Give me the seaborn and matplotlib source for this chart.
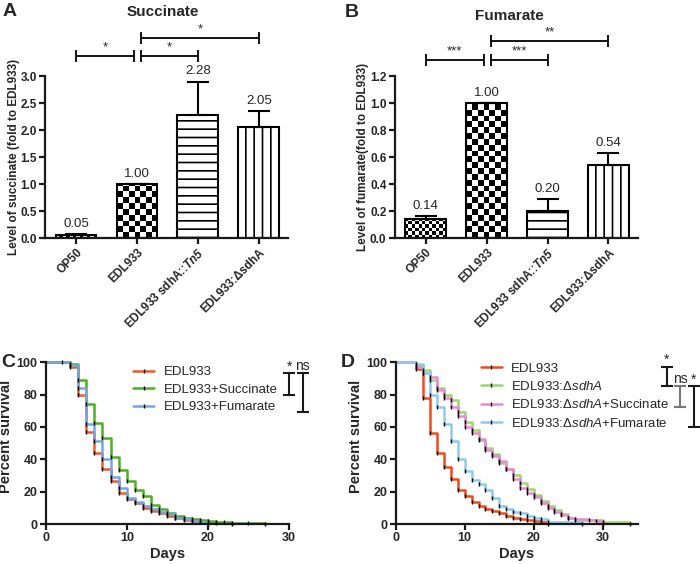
import numpy as np
import pandas as pd
import matplotlib
matplotlib.use("Agg")
import matplotlib.pyplot as plt
import seaborn as sns
from matplotlib.lines import Line2D

# ---- bar panels (A, B) ----
strains = ["OP50", "EDL933", "EDL933 sdhA::Tn5", "EDL933:ΔsdhA"]
strain_ticks = ["OP50", "EDL933", r"EDL933 sdhA::$\mathbfit{Tn5}$", "EDL933:ΔsdhA"]
succinate = [0.05, 1.00, 2.28, 2.05]
succinate_err = [0.03, 0.0, 0.62, 0.31]
fumarate = [0.14, 1.00, 0.20, 0.54]
fumarate_err = [0.02, 0.0, 0.09, 0.09]
# (left bar, right bar, bracket height, label)
succinate_sig = [(0, 1, 3.37, "*"), (1, 2, 3.37, "*"), (1, 3, 3.70, "*")]
fumarate_sig = [(0, 1, 1.32, "***"), (1, 2, 1.32, "***"), (1, 3, 1.46, "**")]

# ---- survival panel C ----
c_edl_days = [0, 2, 3, 4, 5, 6, 7, 8, 9, 10, 11, 12, 13, 14, 15, 16, 17, 18, 19, 20, 21, 23]
c_edl_surv = [100, 100, 97, 79.5, 57, 44, 34, 26.5, 19, 15.5, 12.7, 10, 8, 6.5, 5, 3.5, 2.5, 2, 1.5, 1, 0.6, 0]
c_succ_days = [0, 3, 4, 5, 6, 7, 8, 9, 10, 11, 12, 13, 14, 15, 16, 17, 18, 19, 20, 21, 22, 23, 25, 27]
c_succ_surv = [100, 99, 89, 74, 62.5, 53, 41.5, 33.5, 26.5, 21, 17, 12, 9, 7, 5, 4, 3, 2.5, 2, 1.5, 1, 0.8, 0.4, 0]
c_fum_days = [0, 3, 4, 5, 6, 7, 8, 9, 10, 11, 12, 13, 14, 15, 16, 17, 18, 19, 20]
c_fum_surv = [100, 98, 84, 62, 51, 40, 29, 22, 16, 13.5, 11, 9, 7.5, 6, 4, 3, 2, 1.2, 0]

# ---- survival panel D ----
d_edl_days = [0, 3, 4, 5, 6, 7, 8, 9, 10, 11, 12, 13, 14, 15, 16, 17, 18, 19, 20, 21, 22]
d_edl_surv = [100, 96, 78, 56, 44, 35.5, 28, 21, 17, 13.5, 11, 9.5, 8, 6.5, 5, 4, 3, 2.2, 1.7, 1.2, 0]
d_sdha_days = [0, 3, 4, 5, 6, 7, 8, 9, 10, 11, 12, 13, 14, 15, 16, 17, 18, 19, 20, 21, 22, 23, 24, 25, 26, 30, 34]
d_sdha_surv = [100, 98, 95, 89, 84, 80, 76.5, 69, 63, 58, 52, 47, 43, 38, 34, 30, 25.5, 21.5, 18, 14.5, 11, 8.5, 6, 3.5, 2.5, 1, 0]
d_sdha_succ_days = [0, 3, 4, 5, 6, 7, 8, 9, 10, 11, 12, 13, 14, 15, 16, 17, 18, 19, 20, 21, 22, 23, 24, 25, 26, 28, 29, 30]
d_sdha_succ_surv = [100, 97, 93, 91, 83, 78, 72, 67, 60, 56, 52.5, 46, 42, 39, 34, 28, 22, 19, 16.5, 13, 10, 7.5, 5.5, 4, 3, 2.5, 2, 0]
d_sdha_fum_days = [0, 3, 4, 5, 6, 7, 8, 9, 10, 11, 12, 13, 14, 15, 16, 17, 18, 19, 20, 21, 22, 27]
d_sdha_fum_surv = [100, 99, 93, 80, 72, 62, 51, 40, 33, 27, 25, 21, 16, 11, 9, 7.5, 6.5, 5, 4, 3, 1, 0]

c_labels = ["EDL933", "EDL933+Succinate", "EDL933+Fumarate"]
d_labels = ["EDL933", r"EDL933:Δ$\it{sdhA}$", r"EDL933:Δ$\it{sdhA}$+Succinate",
            r"EDL933:Δ$\it{sdhA}$+Fumarate"]

sns.set_style("ticks")
plt.rcParams["font.family"] = ["Liberation Sans", "DejaVu Sans"]
plt.rcParams["mathtext.fontset"] = "custom"
plt.rcParams["mathtext.rm"] = "Liberation Sans"
plt.rcParams["mathtext.it"] = "Liberation Sans:italic"
plt.rcParams["mathtext.bf"] = "Liberation Sans:bold"
plt.rcParams["mathtext.bfit"] = "Liberation Sans:bold:italic"
plt.rcParams["hatch.linewidth"] = 1.2

INK = "#1a1a1a"


def style_axes(ax, tick_size):
    sns.despine(ax=ax)
    for side in ("left", "bottom"):
        ax.spines[side].set_linewidth(1.6)
        ax.spines[side].set_color(INK)
    ax.tick_params(width=1.6, length=4, color=INK, labelsize=tick_size, pad=2)
    for lab in ax.get_yticklabels():
        lab.set_fontweight("bold")


def checker(ax, patch, ncols):
    x0, w, h = patch.get_x(), patch.get_width(), patch.get_height()
    (px0, py0), (px1, py1) = ax.transData.transform([(x0, 0), (x0 + w, h)])
    sq = (px1 - px0) / ncols
    nrows = max(1, int(np.ceil((py1 - py0) / sq)))
    board = np.indices((nrows, ncols)).sum(axis=0) % 2
    top = nrows * sq / (py1 - py0) * h
    im = ax.imshow(board, cmap="gray_r", extent=(x0, x0 + w, top, 0), aspect="auto",
                   interpolation="nearest", zorder=0.9, vmin=0, vmax=1)
    im.set_clip_path(patch)
    patch.set_facecolor("none")


def bar_panel(ax, vals, errs, ymax, yticks, ylabel, sig):
    df = pd.DataFrame({"strain": strains, "value": vals})
    sns.barplot(data=df, x="strain", y="value", color="white", saturation=1,
                edgecolor="black", linewidth=1.5, width=0.67, errorbar=None, ax=ax)
    ax.set_xlim(-0.51, 3.48)
    ax.set_ylim(0, ymax)
    bars = ax.patches[:4]
    for b in bars:
        b.set_zorder(1)
    bars[2].set_hatch("--")
    bars[3].set_hatch("||")
    checker(ax, bars[0], 12)
    checker(ax, bars[1], 7)
    ax.errorbar(range(4), vals, yerr=[np.zeros(4), errs], fmt="none", ecolor="black",
                elinewidth=1.5, capsize=8, capthick=1.5, zorder=2)
    for i, (v, e) in enumerate(zip(vals, errs)):
        ax.annotate(f"{v:.2f}", (i, v + e), xytext=(0, 3), textcoords="offset points",
                    ha="center", va="bottom", fontsize=9.5)
    for left, right, y, star in sig:
        x1 = left + (0.07 if left == 1 else 0)
        x2 = right - (0.05 if right == 1 else 0)
        eb = ax.errorbar((x1 + x2) / 2, y, xerr=(x2 - x1) / 2, fmt="none", ecolor="black",
                         elinewidth=1.3, capsize=4.5, capthick=1.3)
        for art in eb.get_children():
            art.set_clip_on(False)
        ax.annotate(star, ((x1 + x2) / 2, y), xytext=(0, 2), textcoords="offset points",
                    ha="center", va="bottom", fontsize=9.5, annotation_clip=False)
    ax.set_yticks(yticks)
    ax.set_yticklabels([f"{t:.1f}" for t in yticks])
    ax.set_xticks(range(4))
    ax.set_xticklabels(strain_ticks, rotation=45, ha="right", rotation_mode="anchor",
                       fontweight="bold", fontsize=8.5)
    ax.set_xlabel("")
    ax.set_ylabel(ylabel, fontweight="bold", fontsize=8.5)
    ax.yaxis.set_label_coords(-0.105, 0.5)
    style_axes(ax, 8.5)
    for lab in ax.get_xticklabels():
        lab.set_fontweight("bold")
        lab.set_fontsize(8.5)


def surv_panel(ax, series, labels, colors, xmax, anchor, brackets):
    handles = []
    for (days, surv), color in zip(series, colors):
        sns.lineplot(x=days, y=surv, drawstyle="steps-post", color=color, lw=1.8,
                     estimator=None, sort=False, ax=ax, clip_on=False)
        ax.plot(days[1:], surv[1:], ls="none", marker="|", color="black", ms=3.5, mew=1.0,
                clip_on=False, zorder=3)
        handles.append(Line2D([], [], color=color, lw=1.8, marker="|", mec="black",
                              ms=3.5, mew=1.0))
    ax.legend(handles, labels, loc="upper left", bbox_to_anchor=anchor, frameon=False,
              fontsize=9.5, borderpad=0, borderaxespad=0, handlelength=1.6,
              handletextpad=0.7, labelspacing=0.4, numpoints=1)
    ax.set_xlim(0, xmax)
    ax.set_ylim(0, 100)
    ax.set_xticks([0, 10, 20, 30])
    ax.set_yticks([0, 20, 40, 60, 80, 100])
    ax.set_xlabel("Days", fontweight="bold", fontsize=10.5)
    ax.set_ylabel("Percent survival", fontweight="bold", fontsize=10.5)
    ax.yaxis.set_label_coords(-0.135, 0.54)
    ax.xaxis.set_label_coords(0.5, -0.145)
    for x, lo, hi, text, col in brackets:
        eb = ax.errorbar(x, (lo + hi) / 2, yerr=(hi - lo) / 2, fmt="none", ecolor=col,
                         elinewidth=1.5, capsize=4, capthick=1.5)
        for art in eb.get_children():
            art.set_clip_on(False)
        ax.annotate(text, (x, hi), xytext=(0, 0), textcoords="offset points", ha="center",
                    va="bottom", fontsize=10, annotation_clip=False)
    style_axes(ax, 9)
    for lab in ax.get_xticklabels():
        lab.set_fontweight("bold")


fig = plt.figure(figsize=(7.0, 5.64), dpi=100)
ax_a = fig.add_axes([0.0643, 0.578, 0.347, 0.287])
ax_b = fig.add_axes([0.564, 0.578, 0.347, 0.287])
ax_c = fig.add_axes([0.0653, 0.0709, 0.3476, 0.287])
ax_d = fig.add_axes([0.5653, 0.0709, 0.3461, 0.287])

bar_panel(ax_a, succinate, succinate_err, 3.0, [0.0, 0.5, 1.0, 1.5, 2.0, 2.5, 3.0],
          "Level of succinate (fold to EDL933)", succinate_sig)
bar_panel(ax_b, fumarate, fumarate_err, 1.2, [0.0, 0.2, 0.4, 0.6, 0.8, 1.0, 1.2],
          "Level of fumarate(fold to EDL933)", fumarate_sig)

surv_panel(ax_c,
           [(c_edl_days, c_edl_surv), (c_succ_days, c_succ_surv), (c_fum_days, c_fum_surv)],
           c_labels, ["#F05A28", "#4FAF24", "#74A6E2"], 30, (0.36, 0.975),
           [(30.0, 80, 93, "*", INK), (31.7, 69, 93, "ns", INK)])
surv_panel(ax_d,
           [(d_edl_days, d_edl_surv), (d_sdha_days, d_sdha_surv),
            (d_sdha_succ_days, d_sdha_succ_surv), (d_sdha_fum_days, d_sdha_fum_surv)],
           d_labels, ["#F04A1A", "#9CD66C", "#E98AD6", "#8ECAEE"], 35.1, (0.35, 0.998),
           [(39.3, 85, 97, "*", INK), (41.2, 72, 85, "ns", "#777777"), (43.2, 60, 85, "*", INK)])

fig.text(0.233, 0.978, "Succinate", ha="center", va="center", fontsize=11, fontweight="bold")
fig.text(0.727, 0.971, "Fumarate", ha="center", va="center", fontsize=11, fontweight="bold")
for x, y, letter in [(0.014, 0.980, "A"), (0.503, 0.977, "B"), (0.012, 0.358, "C"), (0.497, 0.358, "D")]:
    fig.text(x, y, letter, ha="center", va="center", fontsize=14, fontweight="bold")

fig.savefig("out.png", dpi=100)
